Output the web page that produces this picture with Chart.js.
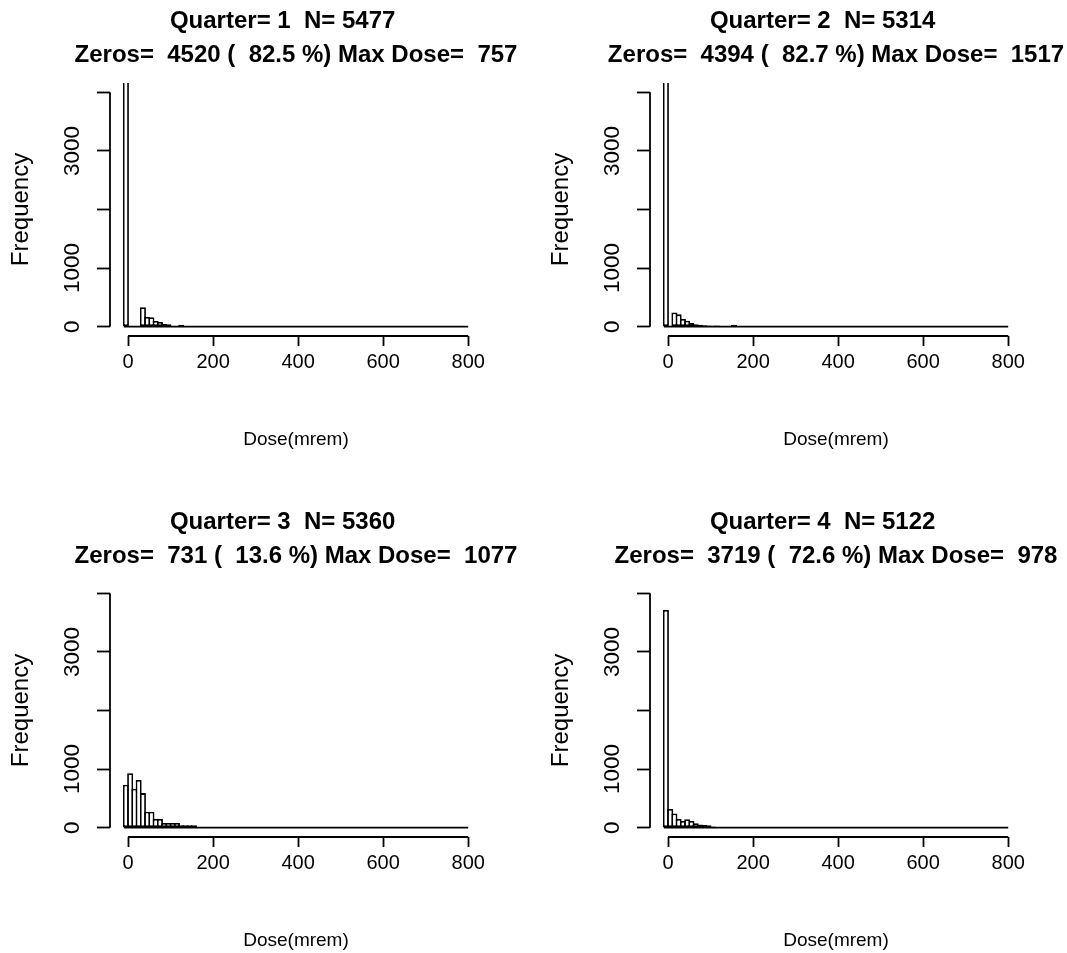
<!DOCTYPE html>
<html>
<head>
<meta charset="utf-8">
<script src="https://cdn.jsdelivr.net/npm/chart.js@4.4.1/dist/chart.umd.min.js"></script>
<style>
html, body { margin: 0; padding: 0; background: #fff; overflow: hidden; }
#wrap { position: relative; width: 1067px; height: 953px; }
#wrap canvas { position: absolute; }
</style>
</head>
<body>
<div id="wrap">
  <canvas id="q1"></canvas>
  <canvas id="q2"></canvas>
  <canvas id="q3"></canvas>
  <canvas id="q4"></canvas>
</div>
<script>
// summary per quarter
const quarters = [1, 2, 3, 4];
const totals = [5477, 5314, 5360, 5122];
const zeroCounts = [4520, 4394, 731, 3719];
const zeroPct = ['82.5', '82.7', '13.6', '72.6'];
const maxDose = [757, 1517, 1077, 978];

// histogram bins (lower edge, 10 mrem wide) and counts
const q1Lo = [-10, 30, 40, 50, 60, 70, 80, 90, 100, 110, 120];
const q1Counts = [4520, 330, 165, 160, 95, 80, 45, 40, 10, 5, 30];
const q2Lo = [-10, 10, 20, 30, 40, 50, 60, 70, 80, 90, 100, 110, 120, 130, 140, 150];
const q2Counts = [4394, 240, 210, 130, 100, 60, 40, 30, 25, 20, 15, 20, 10, 5, 15, 30];
const q3Lo = [-10, 0, 10, 20, 30, 40, 50, 60, 70, 80, 90, 100, 110, 120, 130, 140, 150];
const q3Counts = [731, 929, 665, 815, 590, 270, 270, 150, 150, 80, 80, 80, 80, 40, 40, 40, 40];
const q4Lo = [-10, 0, 10, 20, 30, 40, 50, 60, 70, 80, 90, 100];
const q4Counts = [3719, 320, 240, 150, 115, 145, 115, 75, 55, 45, 40, 20];

const binLo = [q1Lo, q2Lo, q3Lo, q4Lo];
const binCounts = [q1Counts, q2Counts, q3Counts, q4Counts];
const binWidth = 10;

// axes
const xRange = [-10, 800];
const yRange = [0, 4000];
const xTicks = [0, 200, 400, 600, 800];
const yTicks = [0, 1000, 2000, 3000, 4000];
const yTickLabels = ['0', '1000', '', '3000', ''];

// panel placement on the page
const panelLeft = [0, 540, 0, 540];
const panelTop = [0, 0, 501, 501];
const W = 592, H = 452;
const LW = 1.8;

const FONT = 'Liberation Sans, Arial, Helvetica, sans-serif';

// R-style axis lines: only from first to last tick
const axisLines = {
    id: 'axisLines',
    afterDraw(chart) {
        const { ctx, chartArea, scales: { x, y } } = chart;
        ctx.save();
        ctx.strokeStyle = '#000';
        ctx.lineWidth = LW;
        ctx.beginPath();
        ctx.moveTo(chartArea.left, y.getPixelForValue(yTicks[0]));
        ctx.lineTo(chartArea.left, y.getPixelForValue(yTicks[yTicks.length - 1]));
        ctx.moveTo(x.getPixelForValue(xTicks[0]), chartArea.bottom);
        ctx.lineTo(x.getPixelForValue(xTicks[xTicks.length - 1]), chartArea.bottom);
        ctx.stroke();
        ctx.restore();
    }
};

function makePanel(i) {
    const canvas = document.getElementById('q' + quarters[i]);
    canvas.width = W;
    canvas.height = H;
    canvas.style.width = W + 'px';
    canvas.style.height = H + 'px';
    canvas.style.left = panelLeft[i] + 'px';
    canvas.style.top = panelTop[i] + 'px';

    const xPad = (xRange[1] - xRange[0]) * 0.04;
    const yPad = (yRange[1] - yRange[0]) * 0.04;

    new Chart(canvas, {
        type: 'bar',
        data: {
            datasets: [
                {
                    type: 'line',
                    data: [{ x: xRange[0], y: 0 }, { x: xRange[1], y: 0 }],
                    borderColor: '#000',
                    borderWidth: LW,
                    pointRadius: 0
                },
                {
                    data: binLo[i].map((lo, k) => ({ x: lo + binWidth / 2, y: binCounts[i][k] })),
                    backgroundColor: '#fff',
                    borderColor: '#000',
                    borderWidth: LW,
                    borderSkipped: false,
                    categoryPercentage: 1,
                    barPercentage: 1.42
                }
            ]
        },
        options: {
            responsive: false,
            animation: false,
            events: [],
            layout: { padding: 0 },
            plugins: {
                legend: { display: false },
                tooltip: { enabled: false },
                title: {
                    display: true,
                    text: [
                        'Quarter= ' + quarters[i] + '  N= ' + totals[i] + '    ',
                        'Zeros=  ' + zeroCounts[i] + ' (  ' + zeroPct[i] + ' %) Max Dose=  ' + maxDose[i]
                    ],
                    color: '#000',
                    font: { family: FONT, size: 24, weight: 'bold', lineHeight: 34 / 24 },
                    padding: { top: 4, bottom: 11 }
                }
            },
            scales: {
                x: {
                    type: 'linear',
                    min: xRange[0] - xPad,
                    max: xRange[1] + xPad,
                    offset: false,
                    afterBuildTicks: axis => { axis.ticks = xTicks.map(v => ({ value: v })); },
                    afterFit: s => { s.height = H - 336; },
                    border: { display: false },
                    grid: { offset: false, drawOnChartArea: false, tickLength: 10, tickColor: '#000', tickWidth: LW },
                    ticks: {
                        autoSkip: false, minRotation: 0, maxRotation: 0, padding: 4,
                        color: '#000', font: { family: FONT, size: 20 },
                        callback: v => String(v)
                    },
                    title: {
                        display: true, text: 'Dose(mrem)', color: '#000',
                        font: { family: FONT, size: 19 }, padding: { top: 0, bottom: 1 }
                    }
                },
                y: {
                    position: 'left',
                    min: yRange[0] - yPad,
                    max: yRange[1] + yPad,
                    afterBuildTicks: axis => { axis.ticks = yTicks.map(v => ({ value: v })); },
                    afterFit: s => { s.width = 110; },
                    border: { display: false },
                    grid: { drawOnChartArea: false, tickLength: 13, tickColor: '#000', tickWidth: LW },
                    ticks: {
                        autoSkip: false, minRotation: 90, maxRotation: 90, crossAlign: 'center', padding: -1.3,
                        color: '#000', font: { family: FONT, size: 22.5 },
                        callback: (v, k) => yTickLabels[k]
                    },
                    title: {
                        display: true, text: 'Frequency', color: '#000',
                        font: { family: FONT, size: 24 }, padding: { top: 7, bottom: 0 }
                    }
                },
                // empty right margin so the title centres over the plot
                rightPad: {
                    position: 'right',
                    display: true,
                    afterFit: s => { s.width = 110; },
                    border: { display: false },
                    grid: { display: false },
                    ticks: { display: false }
                }
            }
        },
        plugins: [axisLines]
    });
}

quarters.forEach((q, i) => makePanel(i));
</script>
</body>
</html>
